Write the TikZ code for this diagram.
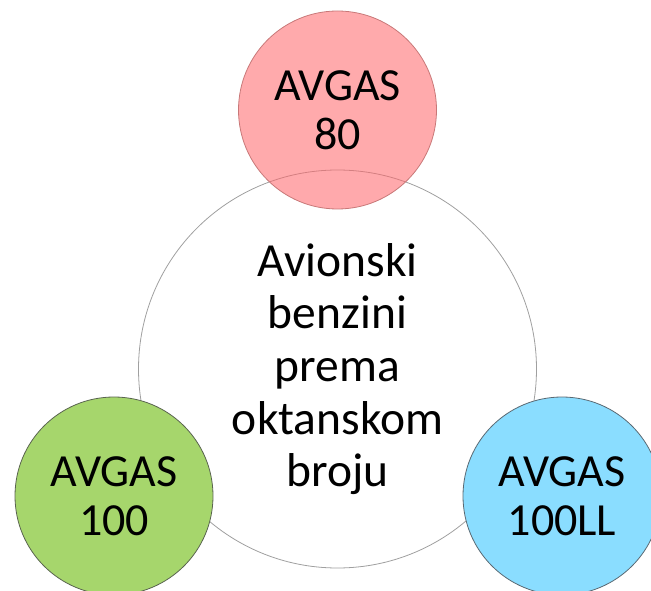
\documentclass[tikz,border=0pt]{standalone}
\usepackage{fontspec}
\setmainfont{Carlito}
\definecolor{hubline}{RGB}{160,160,160}
\definecolor{pinkfill}{RGB}{255,100,104}
\definecolor{pinkline}{RGB}{200,120,120}
\definecolor{greenfill}{RGB}{166,214,108}
\definecolor{greenline}{RGB}{90,100,80}
\definecolor{bluefill}{RGB}{138,221,255}
\definecolor{blueline}{RGB}{90,105,115}
\tikzset{
  bubble/.style={circle, inner sep=0pt, minimum size=198pt, align=center,
    font=\fontsize{46}{49.5}\selectfont, line width=0.8pt},
  hubcircle/.style={circle, inner sep=0pt, minimum size=398pt, align=center,
    draw=hubline, fill=white, line width=0.8pt,
    font=\fontsize{47.5}{52.7}\selectfont}
}
\begin{document}
\begin{tikzpicture}[x=1pt,y=-1pt]
  \useasboundingbox (0,0) rectangle (651,591);
  \clip (0,0) rectangle (651,591);
  % central circle
  \node[hubcircle] (hub) at (337.5,369) {Avionski\\benzini\\prema\\oktanskom\\broju};
  % satellite circles
  \node[bubble, draw=greenline, fill=greenfill] (g100) at (114,496) {AVGAS\\100};
  \node[bubble, draw=blueline, fill=bluefill] (g100ll) at (562,496) {AVGAS\\100LL};
  \node[bubble, draw=pinkline, fill=pinkfill, fill opacity=0.55, text opacity=1] (g80) at (337.5,110) {AVGAS\\80};
\end{tikzpicture}
\end{document}
